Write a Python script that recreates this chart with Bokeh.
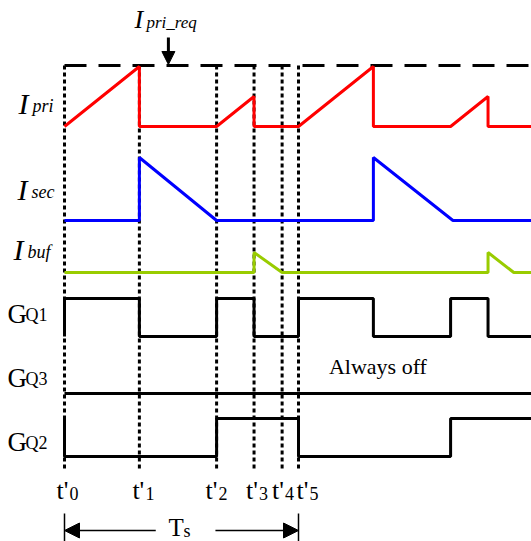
from bokeh.plotting import figure
from bokeh.models import Range1d, Arrow, NormalHead
from bokeh.core.properties import value
from bokeh.embed import file_html
from bokeh.resources import INLINE

# ---------------- data (time as fraction of the switching period Ts) ----------------
t_marks = [0.0, 0.32, 0.65, 0.81, 0.93, 1.0]
t_subs = ["0", "1", "2", "3", "4", "5"]
t_end = 2.0

# currents: (time, normalized amplitude)
ipri_t = [0.0, 0.32, 0.32, 0.65, 0.81, 0.81, 1.0, 1.32, 1.32, 1.65, 1.81, 1.81, 2.0]
ipri_v = [0.0, 1.0, 0.0, 0.0, 0.5, 0.0, 0.0, 1.0, 0.0, 0.0, 0.5, 0.0, 0.0]
isec_t = [0.0, 0.32, 0.32, 0.65, 1.32, 1.32, 1.66, 2.0]
isec_v = [0.0, 0.0, 1.0, 0.0, 0.0, 1.0, 0.0, 0.0]
ibuf_t = [0.0, 0.81, 0.81, 0.93, 1.81, 1.81, 1.92, 2.0]
ibuf_v = [0.0, 0.0, 1.0, 0.0, 0.0, 1.0, 0.0, 0.0]
ipri_req = 1.0

# gate signals: switching instants and state after each, state before t'0
gq1_edges = [0.0, 0.32, 0.65, 0.81, 1.0, 1.32, 1.65, 1.81]
gq1_states = [1, 0, 1, 0, 1, 0, 1, 0]
gq1_init = 0
gq3_edges = [0.0]
gq3_states = [0]
gq3_init = 0
gq2_edges = [0.0, 0.65, 1.0, 1.65]
gq2_states = [0, 1, 0, 1]
gq2_init = 1

sig_main = ["I", "I", "I"]
sig_subs = ["pri", "sec", "buf"]
gate_main = ["G", "G", "G"]
gate_subs = ["Q1", "Q3", "Q2"]

# ---------------- layout (screen-like vertical lanes) ----------------
W, H = 531, 541
PX_T0, PX_TS = 64, 234  # t'0 position and width of one Ts in pixels
DY = -9                 # baseline correction for text placement

def lane(vals, base, scale):
    return [base - v * scale for v in vals]

def gate_path(edges, states, init, tend):
    xs, ys = [edges[0]], [init]
    prev = init
    for e, s in zip(edges, states):
        xs += [e, e]
        ys += [prev, s]
        prev = s
    xs.append(tend)
    ys.append(prev)
    return xs, ys

def ty(vals):
    return [v + DY for v in vals]

p = figure(width=W, height=H, output_backend="svg", toolbar_location=None,
           x_range=Range1d(-PX_T0 / PX_TS, (W - PX_T0) / PX_TS),
           y_range=Range1d(H, 0), min_border=0)
p.axis.visible = False
p.grid.visible = False
p.outline_line_color = None
p.background_fill_color = "white"
p.border_fill_color = "white"

FONT = value("Liberation Serif")
top_y = 126 - ipri_req * 60

# reference dashed line (I_pri_req)
p.line([0, t_end], [top_y - 1, top_y - 1], line_color="black", line_width=3, line_dash="22 12")
# dotted time markers
p.segment(x0=t_marks, y0=[top_y - 1] * len(t_marks), x1=t_marks, y1=[470] * len(t_marks),
          line_color="black", line_width=3, line_dash="4 3")

# currents
p.line(ipri_t, lane(ipri_v, 126, 60), line_color="#FF0000", line_width=3)
p.line(isec_t, lane(isec_v, 220, 63), line_color="#0000FF", line_width=3)
p.line(ibuf_t, lane(ibuf_v, 272, 20), line_color="#99CC00", line_width=3)

# gates
for edges, states, init, low, high in [
    (gq1_edges, gq1_states, gq1_init, 336, 298),
    (gq3_edges, gq3_states, gq3_init, 393, 355),
    (gq2_edges, gq2_states, gq2_init, 456, 418),
]:
    xs, ys = gate_path(edges, states, init, t_end)
    p.line(xs, [low - s * (low - high) for s in ys], line_color="black", line_width=3)

# signal labels
p.text(x=[0] * 3, y=ty([112, 198, 258]), text=sig_main, x_offset=[-46, -47, -51],
       text_font=FONT, text_font_size="30px", text_font_style="italic",
       text_baseline="alphabetic", text_color="black")
p.text(x=[0] * 3, y=ty([114, 200, 260]), text=sig_subs, x_offset=[-32, -33, -37],
       text_font=FONT, text_font_size="18px", text_font_style="italic",
       text_baseline="alphabetic", text_color="black")
p.text(x=[0] * 3, y=ty([322, 386, 450]), text=gate_main, x_offset=[-57, -57, -57],
       text_font=FONT, text_font_size="27px",
       text_baseline="alphabetic", text_color="black")
p.text(x=[0] * 3, y=ty([323, 387, 451]), text=gate_subs, x_offset=[-39, -39, -39],
       text_font=FONT, text_font_size="18px",
       text_baseline="alphabetic", text_color="black")

# time labels
t_off = [-8, -7, -11, -8, -10, -2]
p.text(x=t_marks, y=ty([499] * 6), text=["t'"] * 6, x_offset=t_off,
       text_font=FONT, text_font_size="26px", text_baseline="alphabetic", text_color="black")
p.text(x=t_marks, y=ty([502] * 6), text=t_subs, x_offset=[o + 13 for o in t_off],
       text_font=FONT, text_font_size="18px", text_baseline="alphabetic", text_color="black")

# "Always off"
p.text(x=[1.13], y=ty([375]), text=["Always off"], text_font=FONT, text_font_size="22px",
       text_baseline="alphabetic", text_color="black")

# I_pri_req label + arrow
req_x = 0.444
p.text(x=[req_x], y=ty([28]), text=["I"], x_offset=[-34], text_font=FONT, text_font_size="26px",
       text_font_style="italic", text_baseline="alphabetic", text_color="black")
p.text(x=[req_x], y=ty([31]), text=["pri_req"], x_offset=[-22], text_font=FONT, text_font_size="17px",
       text_font_style="italic", text_baseline="alphabetic", text_color="black")
p.add_layout(Arrow(end=NormalHead(size=13, fill_color="black", line_color="black", line_width=1),
                   x_start=req_x, y_start=37, x_end=req_x, y_end=top_y - 2,
                   line_color="black", line_width=3))

# Ts period arrows
p.segment(x0=[t_marks[0], t_marks[-1]], y0=[513, 513], x1=[t_marks[0], t_marks[-1]], y1=[541, 541],
          line_color="black", line_width=1.5)
for xs, xe in [(0.39, t_marks[0]), (0.645, t_marks[-1])]:
    p.add_layout(Arrow(end=NormalHead(size=15, fill_color="black", line_color="black", line_width=1),
                       x_start=xs, y_start=530, x_end=xe, y_end=530,
                       line_color="black", line_width=1.5))
p.text(x=[0.5], y=ty([536]), text=["T"], x_offset=[-13], text_font=FONT, text_font_size="25px",
       text_baseline="alphabetic", text_color="black")
p.text(x=[0.5], y=ty([539]), text=["s"], x_offset=[2], text_font=FONT, text_font_size="18px",
       text_baseline="alphabetic", text_color="black")

open("out.html", "w").write(file_html(p, INLINE))
